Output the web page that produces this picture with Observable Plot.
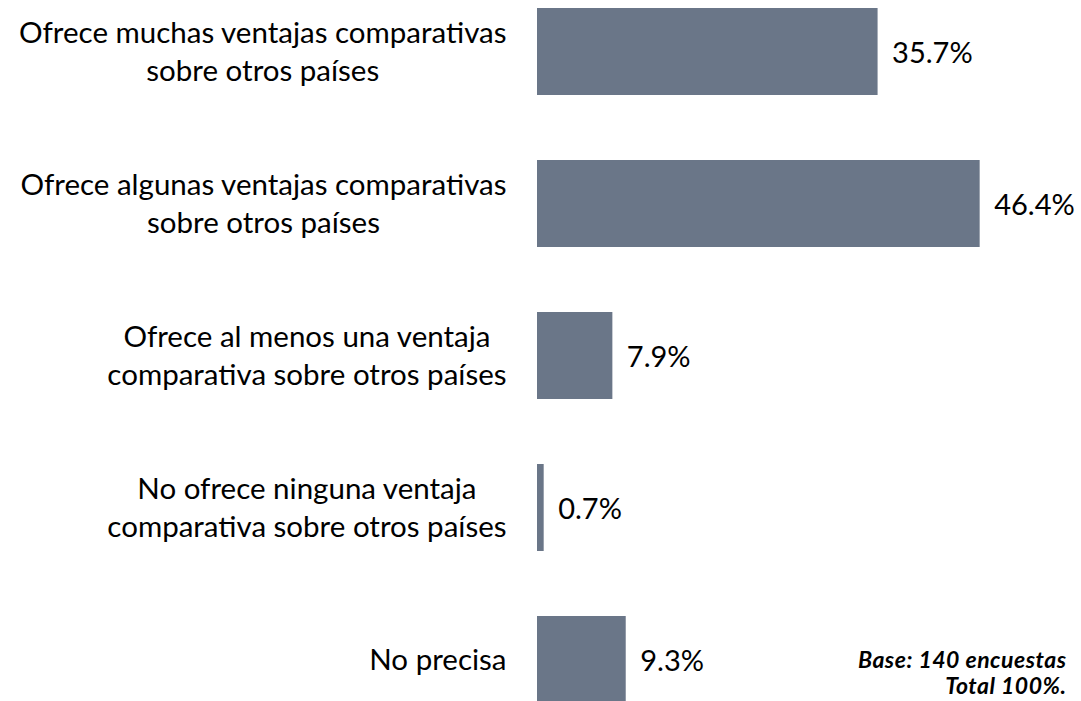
<!DOCTYPE html>
<html><head><meta charset="utf-8">
<script src="https://cdn.jsdelivr.net/npm/d3@7"></script>
<script src="https://cdn.jsdelivr.net/npm/@observablehq/plot@0.6"></script>
<style>body{margin:0;background:#fff;} svg{display:block}</style>
</head><body><div id="chart"></div>
<script>
const categories = [
  "Ofrece muchas ventajas comparativas\nsobre otros países",
  "Ofrece algunas ventajas comparativas\nsobre otros países",
  "Ofrece al menos una ventaja\ncomparativa sobre otros países",
  "No ofrece ninguna ventaja\ncomparativa sobre otros países",
  "No precisa"
];
const values = [35.7, 46.4, 7.9, 0.7, 9.3];
const valueLabels = ["35.7%", "46.4%", "7.9%", "0.7%", "9.3%"];
const footnote = ["Base: 140 encuestas", "Total 100%."];

const data = categories.map((c, i) => ({category: c, value: values[i], label: valueLabels[i]}));
const font = "Lato, 'Open Sans', sans-serif";

const chart = Plot.plot({
  width: 1081, height: 701,
  marginLeft: 537, marginRight: 67, marginTop: 7, marginBottom: -3,
  x: {domain: [0, 50], axis: null},
  y: {domain: categories, axis: null, paddingInner: 0.43, paddingOuter: 0},
  style: {fontFamily: font, fontSize: "30px", color: "#000", background: "#fff"},
  marks: [
    Plot.barX(data, {y: "category", x: "value", fill: "#6a7688"}),
    Plot.text(data, {y: "category", x: "value", text: "label", textAnchor: "start", dx: 14, dy: 2, fontSize: 29, fill: "#000"}),
    Plot.text(data, {y: "category", text: "category", frameAnchor: "left", textAnchor: "end", dx: -31, dy: -2,
      fontSize: 29.5, lineHeight: 1.29, fill: "#000", className: "cat-label"}),
    Plot.text([footnote.join("\n")], {text: d => d, frameAnchor: "bottom-right", textAnchor: "end", lineAnchor: "bottom",
      dx: 52, dy: -11, fontSize: 23, fontWeight: "bold", fontStyle: "italic", lineHeight: 1.1, fill: "#000",
      className: "footnote"})
  ]
});
document.getElementById("chart").appendChild(chart);
chart.querySelectorAll("g.footnote text").forEach(t => t.style.letterSpacing = "0.5px");
chart.querySelectorAll("g.cat-label text").forEach(t => {
  const w = t.getBBox().width;
  t.setAttribute("text-anchor", "middle");
  t.setAttribute("transform", (t.getAttribute("transform") || "") + ` translate(${-w / 2},0)`);
});
</script>
</body></html>
